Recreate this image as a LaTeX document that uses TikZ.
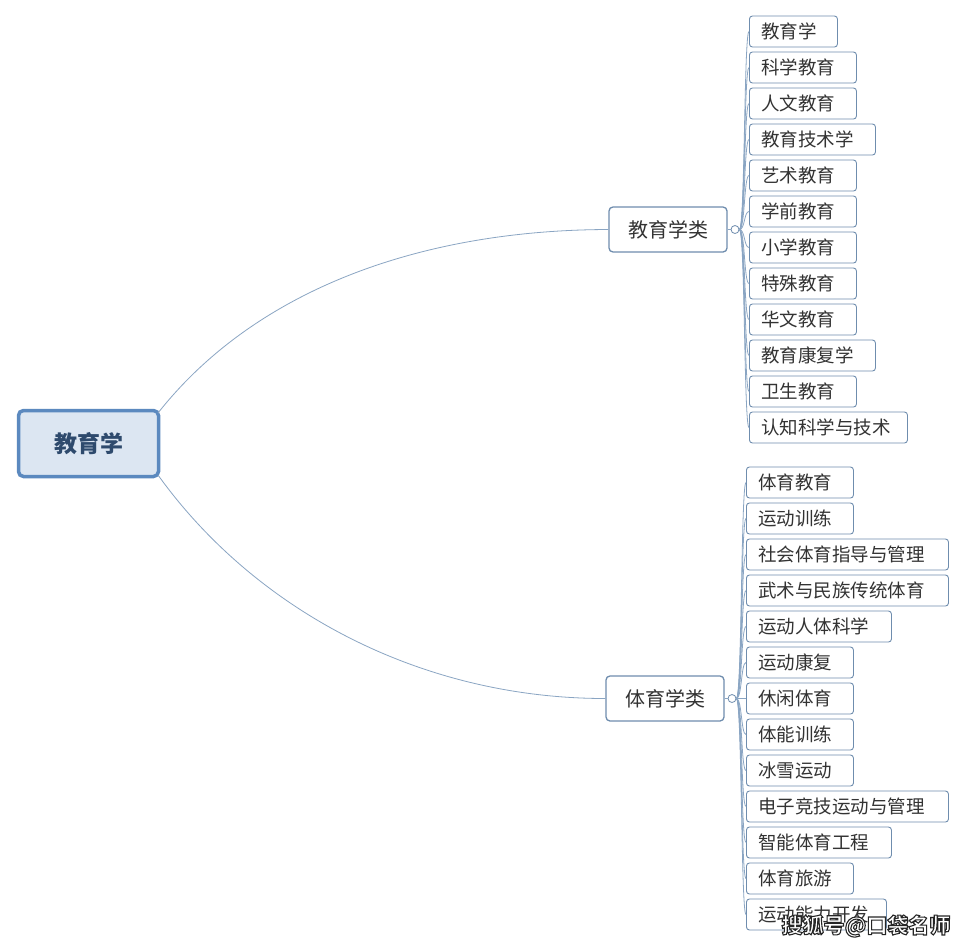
\documentclass[tikz,border=0pt]{standalone}
\usepackage{fontspec}
\setmainfont{Noto Sans CJK SC}
\definecolor{rootfill}{HTML}{DCE6F2}
\definecolor{rootdraw}{HTML}{5B89BF}
\definecolor{roottext}{HTML}{2E4A6D}
\definecolor{boxdraw}{HTML}{6F8DAE}
\definecolor{linkcol}{HTML}{8AA5C3}
\definecolor{txt}{HTML}{333333}
\newcommand{\outlinetext}[1]{\special{pdf:literal direct 2 Tr 1.1 w 0.15 0.15 0.15 RG}#1\special{pdf:literal direct 0 Tr}}
\begin{document}
\begin{tikzpicture}[x=1pt,y=-1pt,
  rootbox/.style={draw=rootdraw,line width=3.5pt,fill=rootfill,rounded corners=5pt,
    minimum width=140pt,minimum height=66pt,inner sep=0pt,font=\fontsize{23}{23}\selectfont\bfseries,text=roottext},
  branchbox/.style={draw=boxdraw,line width=1.3pt,fill=white,rounded corners=4pt,
    minimum width=118pt,minimum height=45pt,inner sep=0pt,font=\fontsize{20}{20}\selectfont,text=txt},
  leafbox/.style={draw=boxdraw,line width=0.9pt,fill=white,rounded corners=3pt,
    minimum height=31pt,inner xsep=12pt,inner ysep=0pt,align=left,anchor=west,
    font=\fontsize{18.5}{18.5}\selectfont,text=txt},
  knob/.style={circle,draw=boxdraw,line width=0.8pt,fill=white,minimum size=8pt,inner sep=0pt},
  link/.style={draw=linkcol,line width=0.8pt},
  wm/.style={font=\fontsize{21}{21}\selectfont\bfseries,text=white}
]
\useasboundingbox (0,0) rectangle (965,948);
\fill[white] (0,0) rectangle (965,948);

% root and branches
\node[rootbox] (root) at (88.5,443.5) {教育学};
\node[branchbox] (b1) at (668,229.5) {教育学类};
\node[branchbox] (b2) at (665,698.5) {体育学类};
\coordinate (r1) at (158,413);
\coordinate (r2) at (158,475);
\draw[link] (r1) .. controls (255,290) and (420,230) .. (b1.west);
\draw[link] (r2) .. controls (255,610) and (420,698.5) .. (b2.west);

\node[knob] (k1) at (735,229.5) {};
\node[knob] (k2) at (732,698.5) {};
\draw[link] (b1.east) -- (k1.west);
\draw[link] (b2.east) -- (k2.west);

% group 1 leaves
\foreach \i/\w/\t in {0/64/教育学,1/83/科学教育,2/83/人文教育,3/102/教育技术学,4/83/艺术教育,
  5/83/学前教育,6/83/小学教育,7/83/特殊教育,8/83/华文教育,9/102/教育康复学,10/83/卫生教育,11/134/认知科学与技术}{
  \node[leafbox,text width=\w pt] (a\i) at (749,31.5+36*\i) {\t};
  \draw[link] (k1.east) .. controls (745,229.5) and (744,31.5+36*\i) .. (a\i.west);
}
% group 2 leaves
\foreach \i/\w/\t in {0/83/体育教育,1/83/运动训练,2/178/社会体育指导与管理,3/178/武术与民族传统体育,
  4/121/运动人体科学,5/83/运动康复,6/83/休闲体育,7/83/体能训练,8/83/冰雪运动,
  9/178/电子竞技运动与管理,10/121/智能体育工程,11/83/体育旅游,12/116/运动能力开发}{
  \node[leafbox,text width=\w pt] (c\i) at (746,482.5+36*\i) {\t};
  \draw[link] (k2.east) .. controls (742,698.5) and (741,482.5+36*\i) .. (c\i.west);
}

% watermark
\node[wm] (wmark) at (866,926) {\outlinetext{搜狐号@口袋名师}};
\end{tikzpicture}
\end{document}
